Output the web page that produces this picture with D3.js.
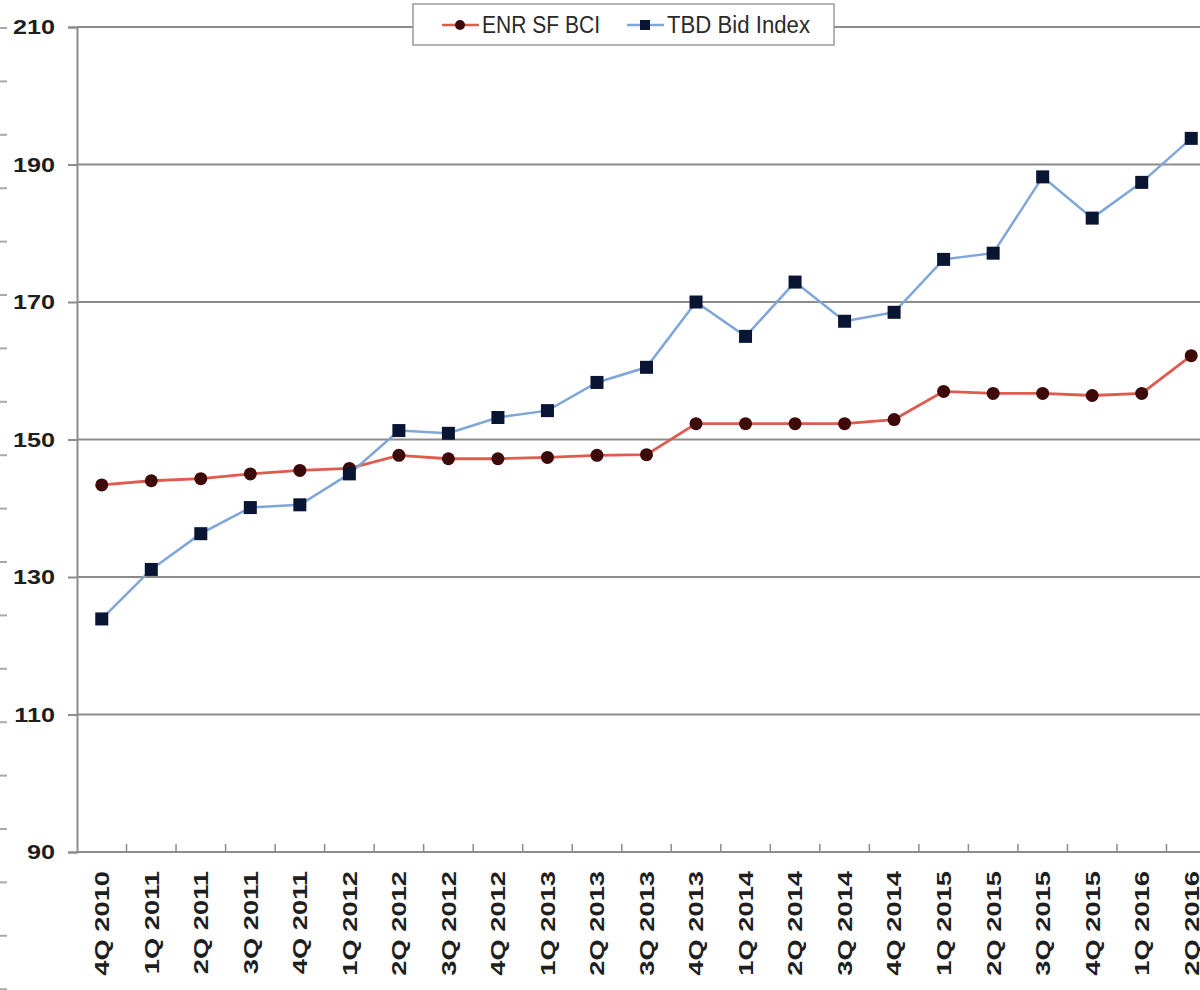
<!DOCTYPE html>
<html>
<head>
<meta charset="utf-8">
<script src="https://cdn.jsdelivr.net/npm/d3@7/dist/d3.min.js"></script>
<style>
  html, body { margin: 0; padding: 0; background: #fff; }
  svg { display: block; }
</style>
</head>
<body>
<svg id="chart" width="1200" height="990"></svg>
<script>
const categories = ["4Q 2010","1Q 2011","2Q 2011","3Q 2011","4Q 2011","1Q 2012","2Q 2012","3Q 2012","4Q 2012","1Q 2013","2Q 2013","3Q 2013","4Q 2013","1Q 2014","2Q 2014","3Q 2014","4Q 2014","1Q 2015","2Q 2015","3Q 2015","4Q 2015","1Q 2016","2Q 2016"];
const enrSfBci = [143.4,144.0,144.3,145.0,145.5,145.8,147.7,147.2,147.2,147.4,147.7,147.8,152.3,152.3,152.3,152.3,152.9,157.0,156.7,156.7,156.4,156.7,162.2];
const tbdBidIndex = [123.9,131.1,136.3,140.1,140.5,145.0,151.3,150.9,153.2,154.2,158.3,160.5,170.0,165.0,172.9,167.2,168.5,176.2,177.1,188.2,182.2,187.4,193.8];
const yTicks = [90,110,130,150,170,190,210];
const seriesNames = ["ENR SF BCI","TBD Bid Index"];

(function () {
const svg = d3.select("#chart");
const mLeft = 77, mRight = 1216, mTop = 27, mBottom = 852;

const x = d3.scaleBand().domain(categories).range([mLeft, mRight]);
const y = d3.scaleLinear().domain([90, 210]).range([mBottom, mTop]);

// stray left-edge dashes (from neighbouring cropped element)
const dashScale = d3.scaleLinear().domain([0, 1]).range([28, 81.4]);
svg.append("g").selectAll("line").data(d3.range(19)).join("line")
  .attr("x1", 0).attr("x2", 7)
  .attr("y1", d => dashScale(d)).attr("y2", d => dashScale(d))
  .attr("stroke", "#aaa").attr("stroke-width", 2);

// gridlines
svg.append("g").selectAll("line").data(yTicks.filter(t => t > 90)).join("line")
  .attr("x1", mLeft).attr("x2", 1200)
  .attr("y1", d => y(d)).attr("y2", d => y(d))
  .attr("stroke", "#8c8c8c").attr("stroke-width", 2);

const fontFam = "'Liberation Sans', Arial, sans-serif";

// Y axis
const yAxis = d3.axisLeft(y).tickValues(yTicks).tickSize(9).tickPadding(12);
const gy = svg.append("g").attr("transform", `translate(${mLeft},0)`).call(yAxis);
gy.select(".domain").attr("stroke", "#8c8c8c").attr("stroke-width", 2);
gy.selectAll(".tick line").attr("stroke", "#8c8c8c").attr("stroke-width", 2);
gy.selectAll(".tick text")
  .attr("font-family", fontFam)
  .attr("font-weight", "bold").attr("font-size", 21).attr("fill", "#1e1e1e")
  .attr("x", 0).attr("transform", "translate(-22,0) scale(1.2,1)");

// X axis
const xAxis = d3.axisBottom(x).tickSize(0).tickPadding(0);
const gx = svg.append("g").attr("transform", `translate(0,${mBottom})`).call(xAxis);
gx.select(".domain").remove();
svg.append("line").attr("x1", mLeft).attr("x2", 1200).attr("y1", mBottom).attr("y2", mBottom)
  .attr("stroke", "#8c8c8c").attr("stroke-width", 2);
// inner ticks at band boundaries
svg.append("g").selectAll("line").data(categories.slice(1)).join("line")
  .attr("x1", d => x(d)).attr("x2", d => x(d))
  .attr("y1", mBottom).attr("y2", mBottom - 8)
  .attr("stroke", "#8c8c8c").attr("stroke-width", 1.5);
gx.selectAll(".tick text")
  .attr("font-family", fontFam)
  .attr("font-weight", "bold").attr("font-size", 21).attr("fill", "#1e1e1e")
  .attr("text-anchor", "end")
  .attr("transform", "translate(0,19) rotate(-90) scale(1.3,1)")
  .attr("dy", "0.35em").attr("x", 0).attr("y", 0);

const cx = d => x(d) + x.bandwidth() / 2;

// lines
const redLine = "#e05a4e", redMark = "#3e0909";
const blueLine = "#7fa6d9", blueMark = "#0a1433";

const line = d3.line().x((d, i) => cx(categories[i])).y(d => y(d));

svg.append("path").datum(enrSfBci).attr("d", line)
  .attr("fill", "none").attr("stroke", redLine).attr("stroke-width", 2.8);
svg.append("path").datum(tbdBidIndex).attr("d", line)
  .attr("fill", "none").attr("stroke", blueLine).attr("stroke-width", 2.5);

svg.append("g").selectAll("circle").data(enrSfBci).join("circle")
  .attr("cx", (d, i) => cx(categories[i])).attr("cy", d => y(d))
  .attr("r", 6.5).attr("fill", redMark);

svg.append("g").selectAll("rect").data(tbdBidIndex).join("rect")
  .attr("x", (d, i) => cx(categories[i]) - 6.5).attr("y", d => y(d) - 6.5)
  .attr("width", 13).attr("height", 13).attr("fill", blueMark);

// legend
const lg = svg.append("g");
lg.append("rect").attr("x", 413).attr("y", 4).attr("width", 421).attr("height", 41)
  .attr("fill", "#fff").attr("stroke", "#9a9a9a").attr("stroke-width", 1.5);
const legendItems = [
  {name: seriesNames[0], lc: redLine, mc: redMark, shape: "circle", x0: 442, w: 118},
  {name: seriesNames[1], lc: blueLine, mc: blueMark, shape: "rect", x0: 627, w: 143}
];
legendItems.forEach(it => {
  const ly = 25;
  lg.append("line").attr("x1", it.x0).attr("x2", it.x0 + 37).attr("y1", ly).attr("y2", ly)
    .attr("stroke", it.lc).attr("stroke-width", 2.5);
  if (it.shape === "circle") {
    lg.append("circle").attr("cx", it.x0 + 18).attr("cy", ly).attr("r", 5).attr("fill", it.mc);
  } else {
    lg.append("rect").attr("x", it.x0 + 13).attr("y", ly - 5).attr("width", 10).attr("height", 10).attr("fill", it.mc);
  }
  lg.append("text").attr("x", it.x0 + 40).attr("y", ly).attr("dy", "0.35em")
    .attr("font-family", "'Liberation Sans Narrow', 'Liberation Sans', Arial, sans-serif")
    .attr("font-size", 23).attr("fill", "#2a2a2a")
    .attr("textLength", it.w).attr("lengthAdjust", "spacingAndGlyphs")
    .text(it.name);
});
})();
</script>
</body>
</html>
